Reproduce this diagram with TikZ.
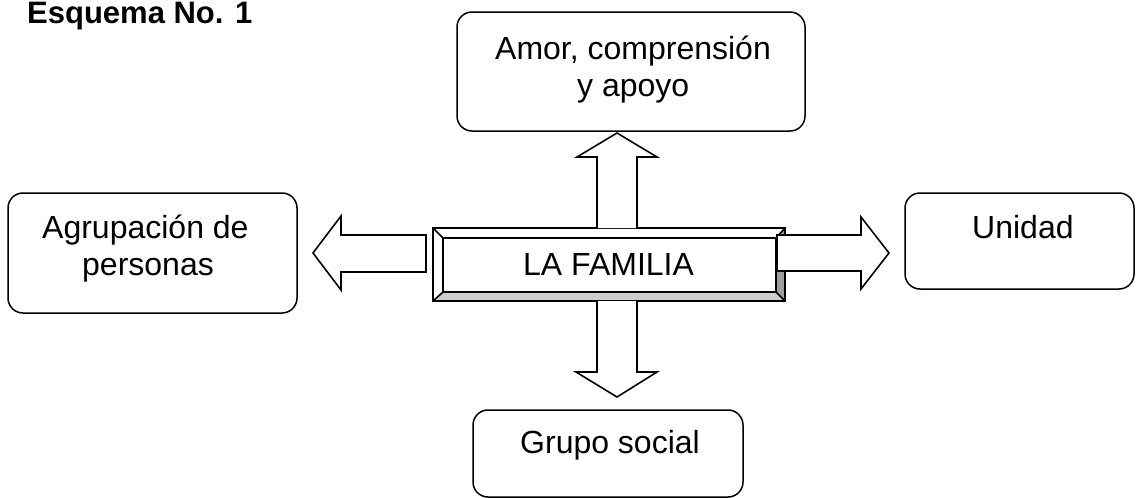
\documentclass[tikz,border=0pt]{standalone}
\usepackage{fontspec}
\setmainfont{Liberation Sans}
\begin{document}
\begin{tikzpicture}[x=1pt,y=-1pt,
  box/.style={draw=black,line width=1.5pt,rounded corners=15pt,fill=white,inner sep=0pt},
  txt/.style={anchor=base west,inner sep=0pt,font=\fontsize{32}{37}\selectfont},
  blockarrow/.style={draw=black,line width=1.6pt,fill=white,line join=miter},
  bevel/.style={draw=black,line width=1.6pt,line join=miter}]
\useasboundingbox (0,0) rectangle (1136,498);

% title
\node[anchor=base west,inner sep=0pt,font=\fontsize{31}{36}\selectfont\bfseries] (title) at (27,23) {Esquema No. 1};

% outer boxes
\node[box,minimum width=348pt,minimum height=119pt] (top) at (631,71.5) {};
\node[box,minimum width=289pt,minimum height=120pt] (left) at (152.5,253) {};
\node[box,minimum width=229pt,minimum height=96pt] (right) at (1019.5,241) {};
\node[box,minimum width=270pt,minimum height=87pt] (bottom) at (608,453.5) {};

% center bevelled box
\node[inner sep=0pt,minimum width=352pt,minimum height=73pt] (center) at (609,264.5) {};
\coordinate (o1) at (433,228); \coordinate (o2) at (785,228);
\coordinate (o3) at (785,301); \coordinate (o4) at (433,301);
\coordinate (i1) at (443,238); \coordinate (i2) at (776,238);
\coordinate (i3) at (776,292); \coordinate (i4) at (443,292);
\fill[white] (o1) -- (o2) -- (i2) -- (i1) -- cycle;
\fill[white] (o1) -- (i1) -- (i4) -- (o4) -- cycle;
\fill[gray!40] (o4) -- (i4) -- (i3) -- (o3) -- cycle;
\fill[gray!75] (o2) -- (o3) -- (i3) -- (i2) -- cycle;
\draw[bevel] (o1) rectangle (o3);
\draw[bevel,fill=white] (i1) rectangle (i3);
\draw[bevel] (o1) -- (i1) (o2) -- (i2) (o3) -- (i3) (o4) -- (i4);

% block arrows
\draw[blockarrow] (597,228) -- (597,157) -- (577,157) -- (617,133) -- (657,157) -- (637,157) -- (637,228);
\draw[blockarrow] (597,301) -- (597,372) -- (576,372) -- (617,397) -- (657,372) -- (637,372) -- (637,301);
\draw[blockarrow] (426,235) -- (341,235) -- (341,216) -- (313,253) -- (341,290) -- (341,272) -- (426,272) -- cycle;
\draw[blockarrow] (777,235) -- (861,235) -- (861,217) -- (889,253) -- (861,289) -- (861,271) -- (777,271) -- cycle;

% texts
\node[txt] (t1) at (495,59) {Amor, comprensión};
\node[txt] (t2) at (577,96) {y apoyo};
\node[txt] (t3) at (42,238) {Agrupación de};
\node[txt] (t4) at (82,275) {personas};
\node[txt] (t5) at (972,238) {Unidad};
\node[txt] (t6) at (523,275) {LA FAMILIA};
\node[txt] (t7) at (520,453) {Grupo social};
\end{tikzpicture}
\end{document}
